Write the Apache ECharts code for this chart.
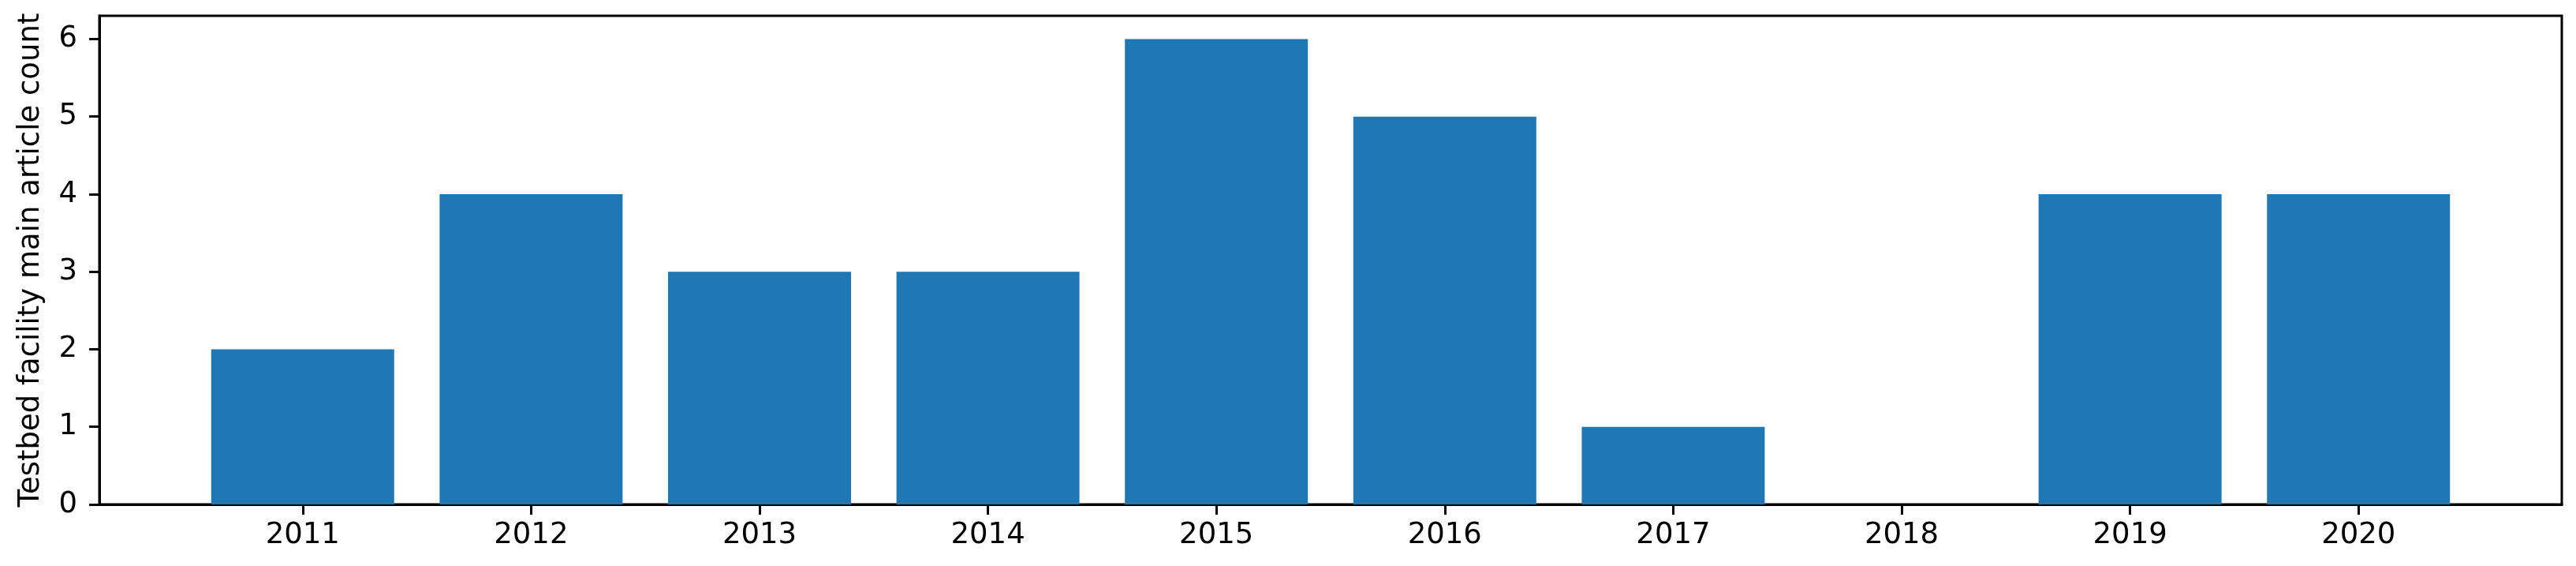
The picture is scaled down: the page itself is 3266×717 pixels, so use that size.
<!DOCTYPE html>
<html>
<head>
<meta charset="utf-8">
<script src="https://cdn.jsdelivr.net/npm/echarts@6/dist/echarts.min.js"></script>
<style>
    html, body { margin: 0; padding: 0; background: #fff; }
    #chart { width: 3266px; height: 717px; }
</style>
</head>
<body>
<div id="chart"></div>
<script>
// values
const years = [2011, 2012, 2013, 2014, 2015, 2016, 2017, 2018, 2019, 2020];
const counts = [2, 4, 3, 3, 6, 5, 1, 0, 4, 4];
const yTicks = [0, 1, 2, 3, 4, 5, 6];
const yLabel = 'Testbed facility main article count';

const barColor = '#1f77b4';
const fontFamily = 'DejaVu Sans';
const fontSize = 37;

// matplotlib style margins: bars 0.8 wide, 5% padding
const xMin = 2010.6 - 0.05 * 9.8;
const xMax = 2020.4 + 0.05 * 9.8;
const yMax = 6.3;

const chart = echarts.init(document.getElementById('chart'));

chart.setOption({
    animation: false,
    backgroundColor: '#fff',
    grid: {
        show: true,
        left: 126,
        right: 18,
        top: 20,
        bottom: 78,
        borderColor: '#000',
        borderWidth: 3,
        containLabel: false
    },
    xAxis: {
        type: 'value',
        min: xMin,
        max: xMax,
        axisLine: { show: true, lineStyle: { color: '#000', width: 3 } },
        axisTick: {
            show: true,
            length: 13,
            customValues: years,
            lineStyle: { color: '#000', width: 3 }
        },
        axisLabel: {
            margin: 21,
            customValues: years,
            formatter: v => String(v),
            color: '#000',
            fontFamily: fontFamily,
            fontSize: fontSize
        },
        splitLine: { show: false }
    },
    yAxis: {
        type: 'value',
        min: 0,
        max: yMax,
        name: yLabel,
        nameLocation: 'middle',
        nameGap: 68,
        nameTextStyle: {
            color: '#000',
            fontFamily: fontFamily,
            fontSize: fontSize
        },
        axisLine: { show: true, lineStyle: { color: '#000', width: 3 } },
        axisTick: {
            show: true,
            length: 13,
            customValues: yTicks,
            lineStyle: { color: '#000', width: 3 }
        },
        axisLabel: {
            margin: 28,
            customValues: yTicks,
            formatter: v => String(v),
            color: '#000',
            fontFamily: fontFamily,
            fontSize: fontSize
        },
        splitLine: { show: false }
    },
    series: [{
        type: 'bar',
        barWidth: 232,
        itemStyle: { color: barColor },
        data: years.map((y, i) => [y, counts[i]])
    }]
});
</script>
</body>
</html>
